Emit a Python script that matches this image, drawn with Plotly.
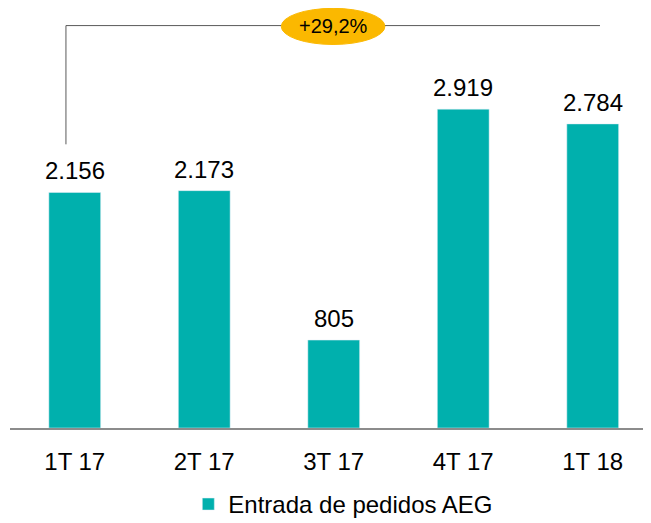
import plotly.graph_objects as go

categories = ["1T 17", "2T 17", "3T 17", "4T 17", "1T 18"]
values = [2156, 2173, 805, 2919, 2784]
series_name = "Entrada de pedidos AEG"
growth_label = "+29,2%"

BAR_COLOR = "#00B0AD"
FONT = "Liberation Sans, Arial, sans-serif"
Y_MAX = 3845

def fmt(v):
    return f"{v:,}".replace(",", ".")

xs = list(range(len(categories)))

fig = go.Figure()
fig.add_trace(go.Bar(
    x=xs, y=values, name=series_name, marker_color=BAR_COLOR,
    width=0.4, showlegend=True,
))

annotations = []
for x, v in zip(xs, values):
    annotations.append(dict(
        x=x, y=v, text=fmt(v), showarrow=False, yanchor="bottom",
        yshift=6, font=dict(size=24, color="#000000", family=FONT),
    ))

# bracket: left vertical + top horizontal line
y_top = 3684
y_left_bottom = 2597
x_left = -0.068
x_right = 4.056
shapes = [
    dict(type="line", xref="x", yref="y", x0=x_left, x1=x_left, y0=y_left_bottom, y1=y_top,
         line=dict(color="#595959", width=1)),
    dict(type="line", xref="x", yref="y", x0=x_left, x1=x_right, y0=y_top, y1=y_top,
         line=dict(color="#595959", width=1)),
]
x_mid = 1.995
y_top_paper = y_top / Y_MAX
shapes.append(dict(type="circle", xref="x", yref="paper",
                   x0=x_mid - 0.4, x1=x_mid + 0.4,
                   y0=y_top_paper - 0.045, y1=y_top_paper + 0.041,
                   fillcolor="#FBB800", line=dict(color="#FBB800", width=1), layer="above"))
annotations.append(dict(x=x_mid, y=y_top, text=growth_label, showarrow=False,
                        font=dict(size=20, color="#000000", family=FONT)))

fig.update_layout(
    width=643, height=519,
    margin=dict(l=2, r=0, t=0, b=91),
    paper_bgcolor="white", plot_bgcolor="white",
    font=dict(family=FONT, size=24, color="#000000"),
    xaxis=dict(range=[-0.5, 4.45], tickmode="array", tickvals=xs, ticktext=categories,
               showgrid=False, zeroline=False, showline=True, linecolor="#8C8C8C",
               linewidth=2, ticks="", ticklabelstandoff=11,
               tickfont=dict(size=24, family=FONT, color="#000000"), fixedrange=True),
    yaxis=dict(range=[0, Y_MAX], visible=False, showgrid=False, zeroline=False),
    showlegend=True,
    legend=dict(orientation="h", x=0.52, xanchor="center", y=-0.182, yanchor="middle",
                font=dict(size=24, family=FONT, color="#000000"),
                itemwidth=30),
    shapes=shapes,
    annotations=annotations,
)

fig.write_html("out.html")
